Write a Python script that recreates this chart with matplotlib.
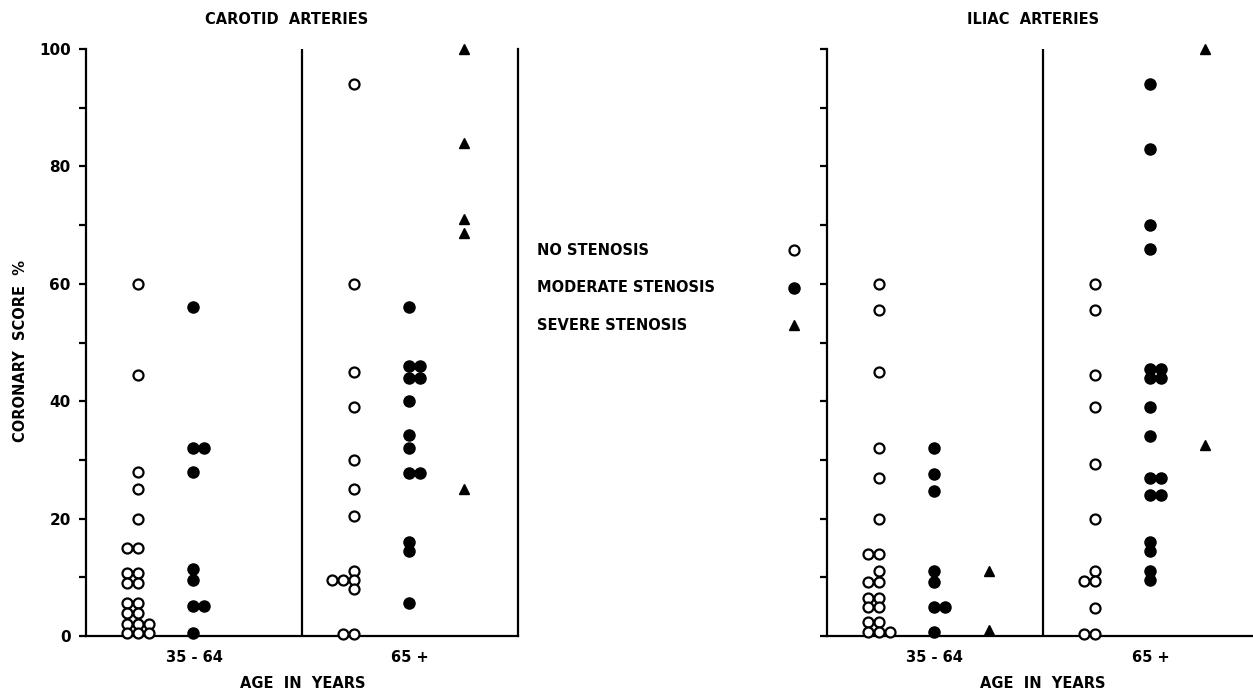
import matplotlib
matplotlib.use('Agg')
import matplotlib.pyplot as plt
from matplotlib.lines import Line2D

# coronary score (%) per artery / age group / degree of stenosis
age_groups = ['35 - 64', '65 +']
legend_labels = ['NO STENOSIS', 'MODERATE STENOSIS', 'SEVERE STENOSIS']

carotid_young_none = [60, 44.5, 28, 25, 20, 15, 15, 10.7, 10.7, 9, 9, 5.7, 5.7, 3.9, 3.9,
                      2, 2, 2, 0.5, 0.5, 0.5]
carotid_young_moderate = [56, 32, 32, 28, 11.4, 9.6, 5.1, 5.1, 0.5]
carotid_young_severe = []
carotid_old_none = [94, 60, 45, 39, 30, 25, 20.5, 11, 9.6, 9.6, 9.6, 8, 0.3, 0.3]
carotid_old_moderate = [56, 46, 46, 44, 44, 40, 34.2, 32, 27.7, 27.7, 16, 14.4, 5.6]
carotid_old_severe = [100, 84, 71, 68.7, 25]

iliac_young_none = [60, 55.5, 45, 32, 27, 20, 14, 14, 11, 9.2, 9.2, 6.5, 6.5, 5, 5,
                    2.4, 2.4, 0.7, 0.7, 0.7]
iliac_young_moderate = [32, 27.6, 24.7, 11, 9.2, 5, 5, 0.6]
iliac_young_severe = [11, 1]
iliac_old_none = [60, 55.5, 44.5, 39, 29.3, 20, 11, 9.3, 9.3, 4.7, 0.4, 0.4]
iliac_old_moderate = [94, 83, 70, 66, 45.5, 45.5, 44, 44, 39, 34, 27, 27, 24, 24,
                      16, 14.5, 11, 9.5]
iliac_old_severe = [100, 32.5]

W, H = 1253, 692
fig = plt.figure(figsize=(W / 100, H / 100), dpi=100)
plt.rcParams['font.family'] = 'DejaVu Sans'
txt = dict(fontsize=10.5, fontweight='bold')

def fx(px):
    return px / W

def fy(py):
    return 1 - py / H

group_px = 216.0
top_px, bot_px = 49, 636
ax1 = fig.add_axes([fx(86), fy(bot_px), 2 * group_px / W, (bot_px - top_px) / H])
ax2 = fig.add_axes([fx(826.7), fy(bot_px), (W - 826.7) / W, (bot_px - top_px) / H])

step = 11 / group_px   # side-by-side spacing of coincident points

def draw(ax, group, values, kind, order=None):
    col = {'none': 0.24, 'moderate': 0.495, 'severe': 0.75}[kind]
    if order is None:
        order = [0, -1, 1] if kind == 'none' else [0, 1, -1]
    counts = {}
    xs = []
    for v in values:
        k = counts.get(v, 0)
        counts[v] = k + 1
        xs.append(group + col + order[k] * step)
    if kind == 'none':
        ax.plot(xs, values, 'o', ms=7.2, mfc='white', mec='black', mew=1.6,
                ls='none', clip_on=False, zorder=5)
    elif kind == 'moderate':
        ax.plot(xs, values, 'o', ms=8, mfc='black', mec='black',
                ls='none', clip_on=False, zorder=5)
    else:
        ax.plot(xs, values, '^', ms=7.5, mfc='black', mec='black',
                ls='none', clip_on=False, zorder=5)

draw(ax1, 0, carotid_young_none, 'none')
draw(ax1, 0, carotid_young_moderate, 'moderate')
draw(ax1, 0, carotid_young_severe, 'severe')
draw(ax1, 1, carotid_old_none, 'none', order=[0, -1, -2])
draw(ax1, 1, carotid_old_moderate, 'moderate')
draw(ax1, 1, carotid_old_severe, 'severe')

draw(ax2, 0, iliac_young_none, 'none')
draw(ax2, 0, iliac_young_moderate, 'moderate')
draw(ax2, 0, iliac_young_severe, 'severe')
draw(ax2, 1, iliac_old_none, 'none')
draw(ax2, 1, iliac_old_moderate, 'moderate')
draw(ax2, 1, iliac_old_severe, 'severe')

for ax, right in [(ax1, True), (ax2, False)]:
    ax.set_ylim(0, 100)
    ax.set_xlim(0, ax.get_position().width * W / group_px)
    ax.spines['top'].set_visible(False)
    ax.spines['right'].set_visible(right)
    for s in ['left', 'bottom', 'right']:
        ax.spines[s].set_linewidth(1.6)
    ax.axvline(1, color='black', lw=1.6)
    ax.set_yticks(range(0, 101, 10))
    ax.tick_params(axis='y', direction='out', length=5, width=1.6, pad=6)
    ax.set_xticks([0.5, 1.5])
    ax.set_xticklabels(age_groups, **txt)
    ax.tick_params(axis='x', length=0, pad=10)

ax1.set_yticklabels(['0', '', '20', '', '40', '', '60', '', '80', '', '100'],
                    fontsize=11, fontweight='bold')
ax2.set_yticklabels([])

fig.text(fx(287), fy(20), 'CAROTID  ARTERIES', ha='center', va='center', **txt)
fig.text(fx(1033), fy(20), 'ILIAC  ARTERIES', ha='center', va='center', **txt)
fig.text(fx(303), fy(684), 'AGE  IN  YEARS', ha='center', va='center', **txt)
fig.text(fx(1043), fy(684), 'AGE  IN  YEARS', ha='center', va='center', **txt)
fig.text(fx(21), fy(351), 'CORONARY  SCORE  %', ha='center', va='center',
         rotation=90, **txt)

# legend in the gap between the panels
leg_y = [250, 288, 325]
leg_style = [dict(marker='o', ms=7.2, mfc='white', mec='black', mew=1.6),
             dict(marker='o', ms=8, mfc='black', mec='black'),
             dict(marker='^', ms=7.5, mfc='black', mec='black')]
for lab, py, st in zip(legend_labels, leg_y, leg_style):
    fig.text(fx(537), fy(py), lab, ha='left', va='center', **txt)
    fig.add_artist(Line2D([fx(794)], [fy(py)], transform=fig.transFigure, ls='none', **st))

fig.savefig('out.png', dpi=100)
